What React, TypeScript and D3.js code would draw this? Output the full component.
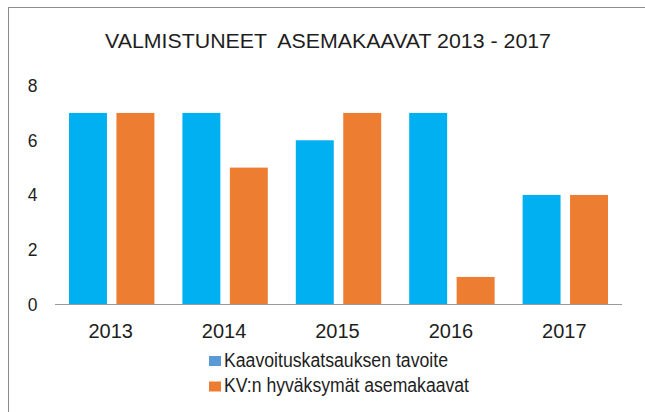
import React, { useEffect, useRef } from 'react';
import * as d3 from 'd3';

const title = 'VALMISTUNEET  ASEMAKAAVAT 2013 - 2017';
const years = ['2013', '2014', '2015', '2016', '2017'];
const seriesNames = ['Kaavoituskatsauksen tavoite', 'KV:n hyväksymät asemakaavat'];
const tavoite = [7, 7, 6, 7, 4];
const hyvaksytyt = [7, 5, 7, 1, 4];
const yTicks = [0, 2, 4, 6, 8];

const barColors = ['#00B0F0', '#ED7D31'];
const legendColors = ['#5B9BD5', '#ED7D31'];
const font = '"Liberation Sans", Arial, sans-serif';

export default function App() {
  const ref = useRef<SVGSVGElement>(null);

  useEffect(() => {
    const w = 645;
    const h = 412;
    const svg = d3.select(ref.current);
    svg.selectAll('*').remove();
    svg.attr('width', w).attr('height', h);

    // chart frame (right/bottom edges fall outside the picture)
    svg.append('rect')
      .attr('x', 8.5).attr('y', 7.5)
      .attr('width', w + 10).attr('height', h + 10)
      .attr('fill', '#fff').attr('stroke', '#8c8c8c');

    svg.append('text')
      .attr('x', 105).attr('y', 47.5)
      .attr('textLength', 446).attr('lengthAdjust', 'spacingAndGlyphs')
      .style('font-family', font).style('font-size', '19.5px')
      .attr('fill', '#1e1e1e')
      .attr('xml:space', 'preserve')
      .text(title);

    const x0 = d3.scaleBand<string>()
      .domain(years)
      .range([55, 622])
      .paddingInner(0.247)
      .paddingOuter(0.1235);
    const x1 = d3.scaleBand<number>()
      .domain([0, 1])
      .range([0, x0.bandwidth()])
      .paddingInner(0.2);
    const y = d3.scaleLinear().domain([0, 8]).range([304.3, 85.6]);

    const rows = years.map((yr, i) => ({ yr, vals: [tavoite[i], hyvaksytyt[i]] }));

    const groups = svg.selectAll('g.year')
      .data(rows)
      .enter()
      .append('g')
      .attr('class', 'year')
      .attr('transform', d => `translate(${x0(d.yr)},0)`);

    groups.selectAll('rect')
      .data(d => d.vals)
      .enter()
      .append('rect')
      .attr('x', (d, i) => x1(i)!)
      .attr('width', x1.bandwidth())
      .attr('y', d => y(d))
      .attr('height', d => y(0) - y(d))
      .attr('fill', (d, i) => barColors[i]);

    // baseline
    svg.append('line')
      .attr('x1', 55).attr('x2', 622)
      .attr('y1', 304.5).attr('y2', 304.5)
      .attr('stroke', '#9a9a9a').attr('stroke-width', 1.2);

    svg.selectAll('text.ytick')
      .data(yTicks)
      .enter()
      .append('text')
      .attr('class', 'ytick')
      .attr('x', 37.5)
      .attr('y', d => y(d) + 6.4)
      .attr('text-anchor', 'end')
      .style('font-family', font).style('font-size', '17.5px')
      .attr('fill', '#1e1e1e')
      .text(d => d);

    svg.selectAll('text.xtick')
      .data(years)
      .enter()
      .append('text')
      .attr('class', 'xtick')
      .attr('x', d => x0(d)! + x0.bandwidth() / 2 - 1)
      .attr('y', 337.5)
      .attr('text-anchor', 'middle')
      .style('font-family', font).style('font-size', '20px')
      .attr('fill', '#1e1e1e')
      .text(d => d);

    const legendWidths = [224, 245];
    const legend = svg.selectAll('g.legend')
      .data(seriesNames)
      .enter()
      .append('g')
      .attr('class', 'legend')
      .attr('transform', (d, i) => `translate(209,${356 + i * 25.5})`);
    legend.append('rect')
      .attr('width', 12).attr('height', 10)
      .attr('fill', (d, i) => legendColors[i]);
    legend.append('text')
      .attr('x', 15).attr('y', 10.7)
      .attr('textLength', (d, i) => legendWidths[i])
      .attr('lengthAdjust', 'spacingAndGlyphs')
      .style('font-family', font).style('font-size', '19.5px')
      .attr('fill', '#1e1e1e')
      .text(d => d);
  }, []);

  return (
    <svg ref={ref} style={{ position: 'absolute', left: 0, top: 0, display: 'block' }} />
  );
}
